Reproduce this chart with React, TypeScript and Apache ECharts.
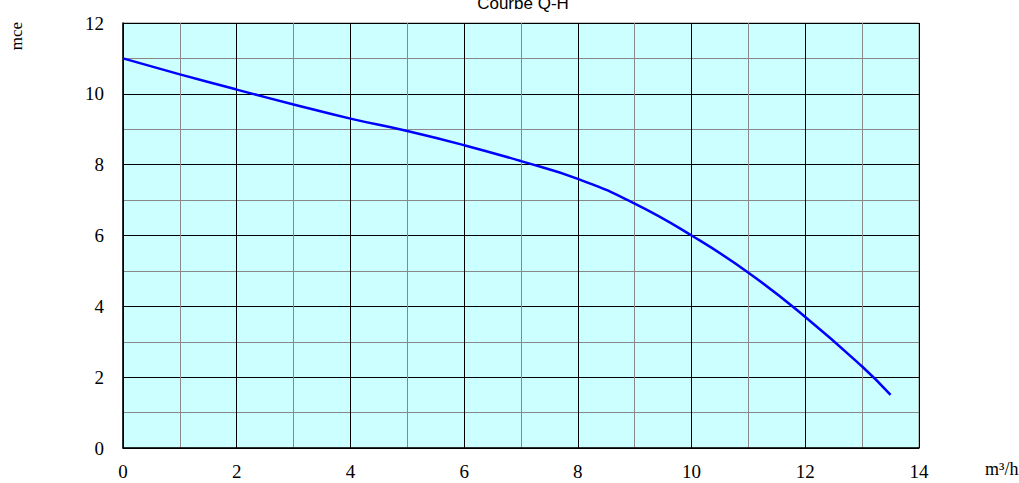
import React, { useEffect, useRef } from "react";
import * as echarts from "echarts";

const flowValues = [0, 1, 2, 3, 4, 5, 6, 7, 8, 9, 10, 11, 12, 13, 13.5];
const headValues = [11.0, 10.55, 10.12, 9.7, 9.3, 8.95, 8.55, 8.1, 7.6, 6.9, 6.0, 4.95, 3.7, 2.3, 1.5];
const titleText = "Courbe Q-H";
const yName = "mce";
const xName = "m³/h";

export default function App() {
  const ref = useRef<HTMLDivElement>(null);
  useEffect(() => {
    if (!ref.current) return;
    const chart = echarts.init(ref.current, undefined, { renderer: "svg" });
    const serif = "Liberation Serif";
    chart.setOption({
      animation: false,
      textStyle: { fontFamily: serif },
      title: {
        text: titleText,
        left: 518,
        textAlign: "center",
        top: -10,
        textStyle: { fontFamily: "Liberation Sans", fontSize: 17, fontWeight: "normal", color: "#000" },
      },
      grid: {
        left: 123,
        right: 100,
        top: 23,
        bottom: 35,
        show: true,
        backgroundColor: "#ccffff",
        borderColor: "#888888",
        borderWidth: 1,
      },
      xAxis: {
        type: "value",
        min: 0,
        max: 14,
        interval: 2,
        axisLine: { show: true, lineStyle: { color: "#000", width: 1.5 } },
        axisTick: { show: false },
        axisLabel: { margin: 14, fontFamily: serif, fontSize: 19, color: "#000" },
        splitLine: { show: true, lineStyle: { color: "#000", width: 1 } },
        minorTick: { show: false, splitNumber: 2 },
        minorSplitLine: { show: true, lineStyle: { color: "#888888", width: 1 } },
      },
      yAxis: {
        type: "value",
        min: 0,
        max: 12,
        interval: 2,
        axisLine: { show: true, lineStyle: { color: "#000", width: 1.5 } },
        axisTick: { show: false },
        axisLabel: { margin: 19, fontFamily: serif, fontSize: 19, color: "#000" },
        splitLine: { show: true, lineStyle: { color: "#000", width: 1 } },
        minorTick: { show: false, splitNumber: 2 },
        minorSplitLine: { show: true, lineStyle: { color: "#888888", width: 1 } },
      },
      graphic: [
        {
          type: "text",
          x: 16,
          y: 36,
          rotation: Math.PI / 2,
          style: { text: yName, fontFamily: serif, fontSize: 17, fill: "#000", align: "center", verticalAlign: "middle" },
        },
        {
          type: "text",
          x: 985,
          y: 469,
          style: { text: xName, fontFamily: serif, fontSize: 18, fill: "#000", align: "left", verticalAlign: "middle" },
        },
      ],
      series: [
        {
          type: "line",
          data: flowValues.map((x, i) => [x, headValues[i]]),
          smooth: true,
          showSymbol: false,
          lineStyle: { color: "#0000ff", width: 2.5 },
        },
      ],
    });
    return () => chart.dispose();
  }, []);
  return <div ref={ref} style={{ width: 1019, height: 483, position: "absolute", left: 0, top: 0 }} />;
}
